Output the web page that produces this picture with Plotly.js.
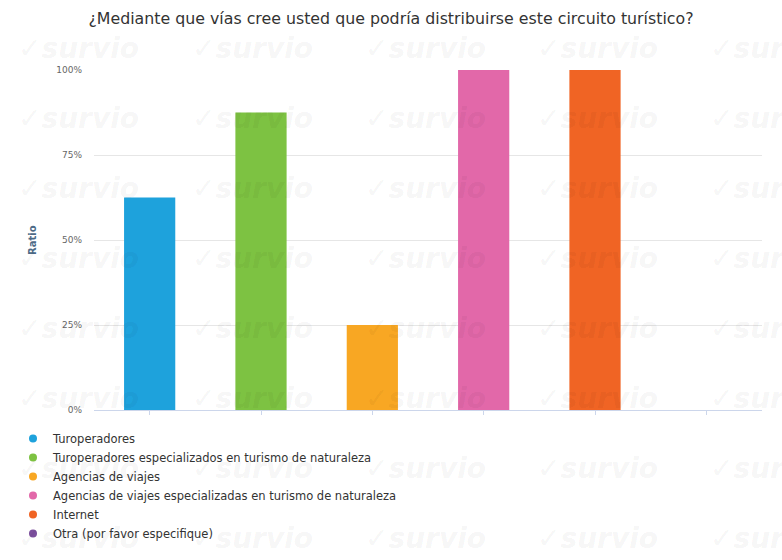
<!DOCTYPE html>
<html>
<head>
<meta charset="utf-8">
<script src="https://cdn.plot.ly/plotly-3.0.1.min.js"></script>
<style>html,body{margin:0;padding:0;background:#fff;}#chart{width:782px;height:560px;}</style>
</head>
<body>
<div id="chart"></div>
<script>
const categories = [
  "Turoperadores",
  "Turoperadores especializados en turismo de naturaleza",
  "Agencias de viajes",
  "Agencias de viajes especializadas en turismo de naturaleza",
  "Internet",
  "Otra (por favor especifique)"
];
const ratios = [0.625, 0.875, 0.25, 1.0, 1.0, 0];
const colors = ["#1ea2dc", "#7dc242", "#f8a723", "#e268a9", "#f06424", "#7b4f9d"];
const yTickVals = [0, 0.25, 0.5, 0.75, 1];
const yTickText = ["0%", "25%", "50%", "75%", "100%"];
const titleText = "¿Mediante que vías cree usted que podría distribuirse este circuito turístico?";
const yTitle = "Ratio";

const traces = [{
  type: "bar",
  x: categories,
  y: ratios,
  marker: {color: colors},
  showlegend: false,
  hoverinfo: "x+y"
}];
categories.forEach((c, i) => {
  traces.push({
    type: "scatter",
    mode: "markers",
    x: [null], y: [null],
    name: c,
    marker: {color: colors[i], size: 8, symbol: "circle"},
    showlegend: true
  });
});

const annotations = [];
// y-axis title
annotations.push({
  xref: "paper", yref: "paper",
  x: (32 - 94) / 668, y: 0.5,
  xanchor: "center", yanchor: "middle",
  text: "<b>" + yTitle + "</b>", textangle: -90,
  showarrow: false,
  font: {family: "DejaVu Sans", size: 10, color: "#4d6a87"}
});
// watermark (decoration)
const wmRows = [48, 118, 188, 258, 328, 398, 468, 538];
const wmCols = [78, 252, 425, 597, 770];
wmRows.forEach(r => wmCols.forEach(c => {
  annotations.push({
    xref: "paper", yref: "paper",
    x: (c - 94) / 668, y: (410 - r) / 340,
    xanchor: "center", yanchor: "middle",
    text: "✓<b><i>survio</i></b>",
    showarrow: false,
    font: {family: "DejaVu Sans", size: 28, color: "rgba(0,0,0,0.055)"}
  });
}));

const layout = {
  width: 782, height: 560,
  margin: {l: 94, r: 20, t: 70, b: 150, autoexpand: false},
  paper_bgcolor: "#fff", plot_bgcolor: "rgba(0,0,0,0)",
  font: {family: "DejaVu Sans, sans-serif", color: "#333"},
  title: {
    text: titleText,
    x: 0.5, xref: "container", xanchor: "center",
    y: 1 - 18/560, yref: "container", yanchor: "middle",
    font: {family: "DejaVu Sans, sans-serif", size: 15.8, color: "#333"}
  },
  bargap: 0.54,
  xaxis: {
    type: "category",
    showticklabels: false,
    showgrid: false,
    showline: true, linecolor: "#ccd6eb", linewidth: 1,
    ticks: "outside", ticklen: 4, tickcolor: "#ccd6eb",
    zeroline: false,
    fixedrange: true
  },
  yaxis: {
    range: [0, 1],
    tickvals: yTickVals, ticktext: yTickText,
    tickfont: {family: "DejaVu Sans", size: 9, color: "#666"},
    ticklabelstandoff: 11,
    showgrid: true, gridcolor: "#e6e6e6", gridwidth: 1,
    zeroline: false,
    showline: false,
    fixedrange: true
  },
  showlegend: true,
  legend: {
    orientation: "v",
    xref: "container", yref: "container",
    x: 13/782, xanchor: "left",
    y: 1 - 424/560, yanchor: "top",
    font: {family: "DejaVu Sans, sans-serif", size: 11.5, color: "#333"},
    bgcolor: "rgba(0,0,0,0)",
    tracegroupgap: 0
  },
  annotations: annotations
};

Plotly.newPlot("chart", traces, layout, {displayModeBar: false, staticPlot: true});
</script>
</body>
</html>
